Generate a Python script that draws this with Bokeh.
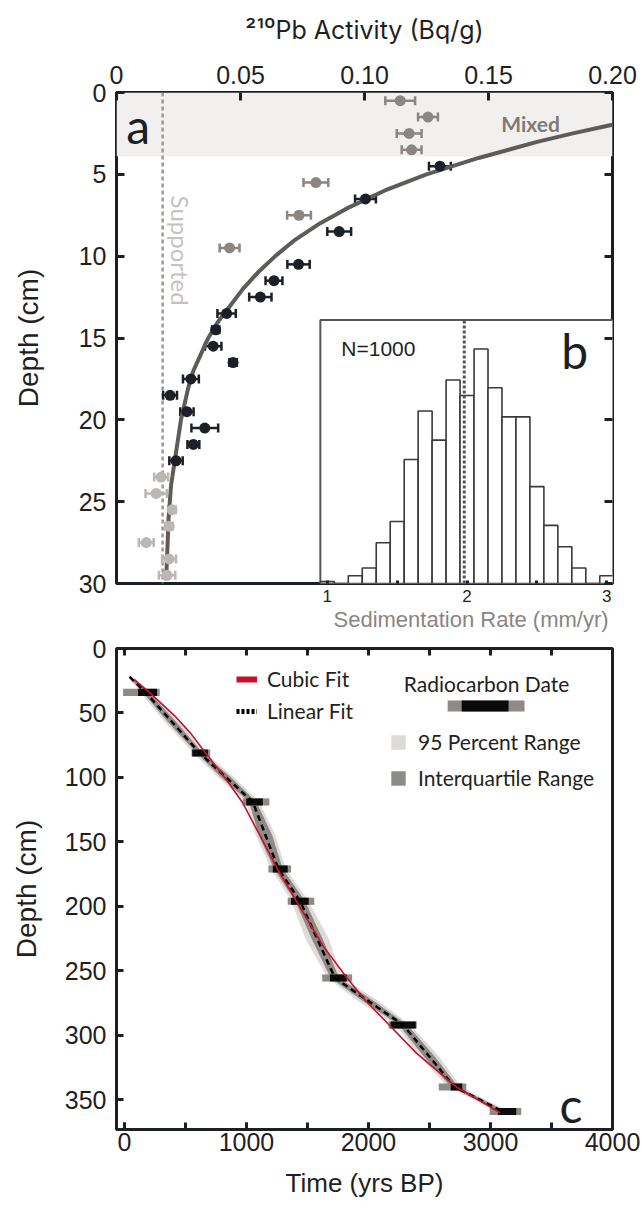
import math
from bokeh.plotting import figure
from bokeh.layouts import column
from bokeh.models import (Range1d, LinearAxis, FixedTicker, SingleIntervalTicker, Whisker, TeeHead,
                          ColumnDataSource, Span, BoxAnnotation, Label, Legend, LegendItem,
                          CustomJSTickFormatter, CustomLabelingPolicy, Title)
from bokeh.embed import file_html
from bokeh.resources import INLINE

# ---------------- panel a : 210Pb activity profile ----------------
mixed_depth = [0.5, 1.5, 2.5, 3.5, 5.5, 7.5, 9.5]
mixed_act = [0.1144, 0.1256, 0.1180, 0.1190, 0.0804, 0.0736, 0.0456]
mixed_err = [0.0060, 0.0040, 0.0050, 0.0040, 0.0050, 0.0048, 0.0040]

used_depth = [4.5, 6.5, 8.5, 10.5, 11.5, 12.5, 13.5, 14.5, 15.5, 16.5, 17.5, 18.5, 19.5, 20.5, 21.5, 22.5]
used_act = [0.1304, 0.1004, 0.0898, 0.0734, 0.0635, 0.0580, 0.0444, 0.0400, 0.0390, 0.0470,
            0.0300, 0.0216, 0.0284, 0.0356, 0.0310, 0.0240]
used_err = [0.0044, 0.0042, 0.0048, 0.0045, 0.0034, 0.0045, 0.0037, 0.0015, 0.0033, 0.0015,
            0.0032, 0.0028, 0.0027, 0.0054, 0.0024, 0.0027]

supp_depth = [23.5, 24.5, 25.5, 26.5, 27.5, 28.5, 29.5]
supp_act = [0.0180, 0.0160, 0.0224, 0.0212, 0.0120, 0.0212, 0.0204]
supp_err = [0.0028, 0.0043, 0.0015, 0.0015, 0.0030, 0.0028, 0.0033]

curve_depth = [1.8, 2.0, 2.5, 3, 4, 5, 6, 7, 8, 9, 10, 11, 12, 13, 14, 15, 16, 17, 18, 20, 22, 24, 26, 28, 29.8]
curve_act = [0.205, 0.199, 0.184, 0.170, 0.146, 0.125, 0.108, 0.094, 0.082, 0.072, 0.064, 0.057, 0.051,
             0.046, 0.041, 0.037, 0.034, 0.031, 0.029, 0.026, 0.024, 0.022, 0.021, 0.0205, 0.020]

supported_level = 0.0186
mixed_bottom = 3.9
act_ticks = [0, 0.05, 0.10, 0.15, 0.20]

# ---------------- panel b : sedimentation-rate histogram ----------------
hist_rate = [1.0, 1.2, 1.3, 1.4, 1.5, 1.6, 1.7, 1.8, 1.9, 2.0, 2.1, 2.2, 2.3, 2.4, 2.5, 2.6, 2.7, 2.8, 3.0]
hist_count = [1, 4, 8, 21, 32, 64, 89, 74, 105, 97, 121, 101, 86, 86, 50, 30, 19, 8, 4]
bin_width = 0.1
rate_median = 1.98
rate_ticks = [1, 2, 3]
rate_minor = [1.5, 2.5]

# ---------------- panel c : age-depth model ----------------
date_depth = [34, 81, 119, 171, 196, 255.5, 292, 340, 359]
date_p95_lo = [-11, 550, 970, 1180, 1338, 1621, 2165, 2576, 2993]
date_p95_hi = [289, 703, 1188, 1365, 1556, 1866, 2396, 2802, 3252]
date_iqr_lo = [112, 556, 998, 1216, 1365, 1684, 2181, 2674, 3061]
date_iqr_hi = [267, 684, 1134, 1338, 1510, 1821, 2388, 2769, 3211]

lin_depth = [22, 34, 81, 119, 171, 196, 255.5, 292, 340, 359]
lin_age = [43, 174, 616, 1052, 1262, 1440, 1725, 2284, 2706, 3101]

cubic_depth = [24, 35, 52, 66, 81, 101, 119, 145, 171, 196, 231, 255, 273, 292, 314, 340, 360]
cubic_age = [80, 215, 410, 545, 665, 830, 965, 1110, 1255, 1410, 1630, 1820, 1975, 2170, 2395, 2720, 3080]

band_depth = [22, 34, 58, 81, 100, 119, 145, 171, 196, 225, 255.5, 273, 292, 316, 340, 359]
band_iqr_lo = [35, 149, 365, 591, 794, 1022, 1102, 1227, 1400, 1534, 1690, 1948, 2249, 2450, 2676, 3076]
band_iqr_hi = [51, 199, 435, 641, 874, 1082, 1212, 1297, 1480, 1624, 1760, 2038, 2319, 2540, 2736, 3126]
band_p95_lo = [28, 129, 340, 566, 769, 997, 1077, 1202, 1370, 1484, 1665, 1908, 2224, 2415, 2651, 3051]
band_p95_hi = [58, 219, 460, 666, 899, 1107, 1237, 1322, 1510, 1674, 1785, 2078, 2344, 2575, 2761, 3151]

# ---------------- styling ----------------
INK = "#1c2024"
TXT = "#231f20"
GRAY_PT = "#8b8683"
LIGHT_PT = "#bab7b5"
NUM_FONT = "Liberation Sans"
HUM_FONT = "Lato"
NAN = float("nan")

hide_all = CustomLabelingPolicy(code="for (const i of indices) indices.unset(i)")


def style_axis(ax, tick_len, labels=True, size="25px"):
    ax.axis_line_color = None
    ax.major_tick_in = tick_len
    ax.major_tick_out = 0
    ax.minor_tick_in = 0
    ax.minor_tick_out = 0
    ax.major_tick_line_width = 3
    ax.major_tick_line_color = INK
    ax.major_label_text_font = NUM_FONT
    ax.major_label_text_color = TXT
    ax.major_label_text_font_size = size if labels else "2px"
    if not labels:
        ax.major_label_policy = hide_all
        ax.major_label_standoff = 0
    ax.axis_label_text_font = NUM_FONT
    ax.axis_label_text_font_style = "normal"
    ax.axis_label_text_color = TXT
    ax.axis_label_text_font_size = "28px"


# ================= figure 1 : panels a and b =================
pa = figure(width=642, height=634, x_range=Range1d(0, 0.2), y_range=Range1d(30, 0),
            output_backend="svg", toolbar_location=None,
            x_axis_location=None, y_axis_location=None,
            min_border_left=116, min_border_right=29, min_border_top=92, min_border_bottom=51)
pa.xgrid.grid_line_color = None
pa.ygrid.grid_line_color = None
pa.outline_line_color = INK
pa.outline_line_width = 3
pa.background_fill_color = "white"
pa.border_fill_color = "white"

pa.extra_x_ranges = {"rate": Range1d(-0.509, 3.041)}
pa.extra_y_ranges = {"count": Range1d(0, 253.4)}

top_ax = LinearAxis(ticker=FixedTicker(ticks=act_ticks),
                    formatter=CustomJSTickFormatter(code="return tick == 0 ? '0' : tick.toFixed(2);"),
                    axis_label="²¹⁰Pb Activity (Bq/g)")
style_axis(top_ax, 8)
top_ax.major_label_standoff = 9
top_ax.axis_label_standoff = 18
top_ax.axis_label_text_font = "Inter"
top_ax.axis_label_text_font_size = "25px"
pa.add_layout(top_ax, "above")

left_ax = LinearAxis(ticker=SingleIntervalTicker(interval=5), axis_label="Depth (cm)")
style_axis(left_ax, 8)
left_ax.major_label_standoff = 10
left_ax.axis_label_standoff = 32
pa.add_layout(left_ax, "left")

right_ax = LinearAxis(ticker=SingleIntervalTicker(interval=5))
style_axis(right_ax, 8, labels=False)
pa.add_layout(right_ax, "right")

rate_ax = LinearAxis(x_range_name="rate", ticker=FixedTicker(ticks=rate_ticks, minor_ticks=rate_minor),
                     bounds=(0.95, 3.041))
style_axis(rate_ax, 3, size="17px")
rate_ax.minor_tick_in = 3
rate_ax.minor_tick_line_width = 3
rate_ax.minor_tick_line_color = INK
rate_ax.major_label_standoff = 6
pa.add_layout(rate_ax, "below")

pa.add_layout(Title(text="Sedimentation Rate (mm/yr)", align="left", offset=217, standoff=0,
                    text_font=NUM_FONT, text_font_size="22px", text_font_style="normal",
                    text_color="#8a8583"), "below")

# mixed layer shading and supported level
pa.add_layout(BoxAnnotation(top=0, bottom=mixed_bottom, fill_color="#f1f0ee", fill_alpha=1,
                            line_color=None, level="underlay"))
pa.add_layout(Span(location=supported_level, dimension="height", line_color="#9b9b9b",
                   line_width=2.5, line_dash="4 3", level="underlay"))


def add_points(depth, act, err, color):
    src = ColumnDataSource(dict(depth=depth, act=act,
                                lo=[a - e for a, e in zip(act, err)],
                                hi=[a + e for a, e in zip(act, err)]))
    w = Whisker(source=src, base="depth", lower="lo", upper="hi", dimension="width",
                line_color=color, line_width=2.5, level="underlay",
                lower_head=TeeHead(size=9, line_color=color, line_width=2.5),
                upper_head=TeeHead(size=9, line_color=color, line_width=2.5))
    pa.add_layout(w)
    return src


src_mixed = add_points(mixed_depth, mixed_act, mixed_err, GRAY_PT)
src_used = add_points(used_depth, used_act, used_err, INK)
src_supp = add_points(supp_depth, supp_act, supp_err, LIGHT_PT)

pa.line(x=curve_act, y=curve_depth, line_color="#5e5b59", line_width=4)

pa.scatter(x="act", y="depth", source=src_mixed, size=11, fill_color=GRAY_PT, line_color=None)
pa.scatter(x="act", y="depth", source=src_used, size=11, fill_color=INK, line_color=None)
pa.scatter(x="act", y="depth", source=src_supp, size=11, fill_color=LIGHT_PT, line_color=None)

pa.add_layout(Label(x=0.0258, y=6.3, text="Supported", angle=-math.pi / 2, text_align="left",
                    text_baseline="middle", text_font=HUM_FONT, text_font_size="24px",
                    text_color="#c8c1bd"))
pa.add_layout(Label(x=0.167, y=1.9, text="Mixed", text_align="center", text_baseline="middle",
                    text_font=HUM_FONT, text_font_size="21px", text_font_style="bold",
                    text_color="#7d7a78"))
pa.add_layout(Label(x=0.0087, y=2.0, text="a", text_align="center", text_baseline="middle",
                    text_font=HUM_FONT, text_font_size="48px", text_color=INK))

# inset b (drawn in the same frame on its own ranges)
pa.quad(left=[0.95], right=[3.2], bottom=[0], top=[136], x_range_name="rate", y_range_name="count",
        fill_color="white", line_color="#5a5553", line_width=2)
pa.quad(left=[r - bin_width / 2 for r in hist_rate], right=[r + bin_width / 2 for r in hist_rate],
        bottom=[0] * len(hist_rate), top=hist_count, x_range_name="rate", y_range_name="count",
        fill_color="white", line_color="#3a3a3a", line_width=1.6)
pa.segment(x0=[rate_median], y0=[0], x1=[rate_median], y1=[136], x_range_name="rate",
           y_range_name="count", line_color="#555555", line_width=3, line_dash="3 2")
pa.add_layout(Label(x=1.10, y=121.5, text="N=1000", x_range_name="rate", y_range_name="count",
                    text_align="left", text_baseline="middle", text_font=NUM_FONT,
                    text_font_size="21px", text_color=TXT))
pa.add_layout(Label(x=2.77, y=120, text="b", x_range_name="rate", y_range_name="count",
                    text_align="center", text_baseline="middle", text_font=HUM_FONT,
                    text_font_size="48px", text_color=INK))

# ================= figure 2 : panel c =================
pc = figure(width=642, height=577, x_range=Range1d(-65, 4000), y_range=Range1d(373, 0),
            output_backend="svg", toolbar_location=None,
            x_axis_location=None, y_axis_location=None,
            min_border_left=116, min_border_right=30, min_border_top=14, min_border_bottom=82)
pc.xgrid.grid_line_color = None
pc.ygrid.grid_line_color = None
pc.outline_line_color = INK
pc.outline_line_width = 3
pc.background_fill_color = "white"
pc.border_fill_color = "white"

bot_ax = LinearAxis(ticker=SingleIntervalTicker(interval=1000, num_minor_ticks=2),
                    axis_label="Time (yrs BP)")
style_axis(bot_ax, 7)
bot_ax.axis_label_text_font_size = "26px"
bot_ax.minor_tick_in = 7
bot_ax.minor_tick_line_width = 3
bot_ax.minor_tick_line_color = INK
bot_ax.major_label_standoff = 3
bot_ax.axis_label_standoff = 14
pc.add_layout(bot_ax, "below")

ctop_ax = LinearAxis(ticker=SingleIntervalTicker(interval=500))
style_axis(ctop_ax, 7, labels=False)
pc.add_layout(ctop_ax, "above")

cleft_ax = LinearAxis(ticker=SingleIntervalTicker(interval=50), axis_label="Depth (cm)")
style_axis(cleft_ax, 7)
cleft_ax.major_label_standoff = 10
cleft_ax.axis_label_standoff = 20
pc.add_layout(cleft_ax, "left")

r95 = pc.harea(y=band_depth, x1=band_p95_lo, x2=band_p95_hi, fill_color="#d9d6d3", fill_alpha=0.9)
riqr = pc.harea(y=band_depth, x1=band_iqr_lo, x2=band_iqr_hi, fill_color="#8f8a87", fill_alpha=1)

pc.hbar(y=date_depth, left=date_p95_lo, right=date_p95_hi, height=5.5, fill_color="#8e8a86",
        line_color=None)
pc.hbar(y=date_depth, left=date_iqr_lo, right=date_iqr_hi, height=5.5, fill_color="#0b0b0b",
        line_color=None)

pc.line(x=lin_age, y=lin_depth, line_color="black", line_width=2.5, line_dash="6 4")
pc.line(x=cubic_age, y=cubic_depth, line_color="#c8102e", line_width=1.6)

# legend samples (renderers without visible data)
leg_red = pc.line(x=[NAN, NAN], y=[NAN, NAN], line_color="#c8102e", line_width=6)
leg_dash = pc.line(x=[NAN, NAN], y=[NAN, NAN], line_color="black", line_width=5, line_dash="3 2")

legend_fits = Legend(items=[LegendItem(label="Cubic Fit", renderers=[leg_red]),
                            LegendItem(label="Linear Fit", renderers=[leg_dash])],
                     location=(120, 406), glyph_width=21, glyph_height=20, label_standoff=10,
                     spacing=7, padding=0, margin=0, border_line_color=None,
                     background_fill_alpha=0, label_text_font=HUM_FONT,
                     label_text_font_size="21px", label_text_color=TXT)
pc.add_layout(legend_fits)

legend_ranges = Legend(items=[LegendItem(label="95 Percent Range", renderers=[r95]),
                              LegendItem(label="Interquartile Range", renderers=[riqr])],
                       location=(273, 339), glyph_width=18, glyph_height=18, label_standoff=11,
                       spacing=11, padding=0, margin=0, border_line_color=None,
                       background_fill_alpha=0, label_text_font=HUM_FONT,
                       label_text_font_size="21px", label_text_color=TXT)
pc.add_layout(legend_ranges)

pc.add_layout(Label(x=2968, y=27, text="Radiocarbon Date", text_align="center",
                    text_baseline="middle", text_font=HUM_FONT, text_font_size="21px",
                    text_color=TXT))
pc.add_layout(BoxAnnotation(left=2649, right=3279, top=40.3, bottom=48.8, fill_color="#8e8a86",
                            fill_alpha=1, line_color=None))
pc.add_layout(BoxAnnotation(left=2764, right=3148, top=40.3, bottom=48.8, fill_color="#0b0b0b",
                            fill_alpha=1, line_color=None))
pc.add_layout(Label(x=3660, y=354, text="c", text_align="center", text_baseline="middle",
                    text_font=HUM_FONT, text_font_size="48px", text_color=INK))

layout = column(pa, pc, spacing=0)
open("out.html", "w").write(file_html(layout, INLINE))
